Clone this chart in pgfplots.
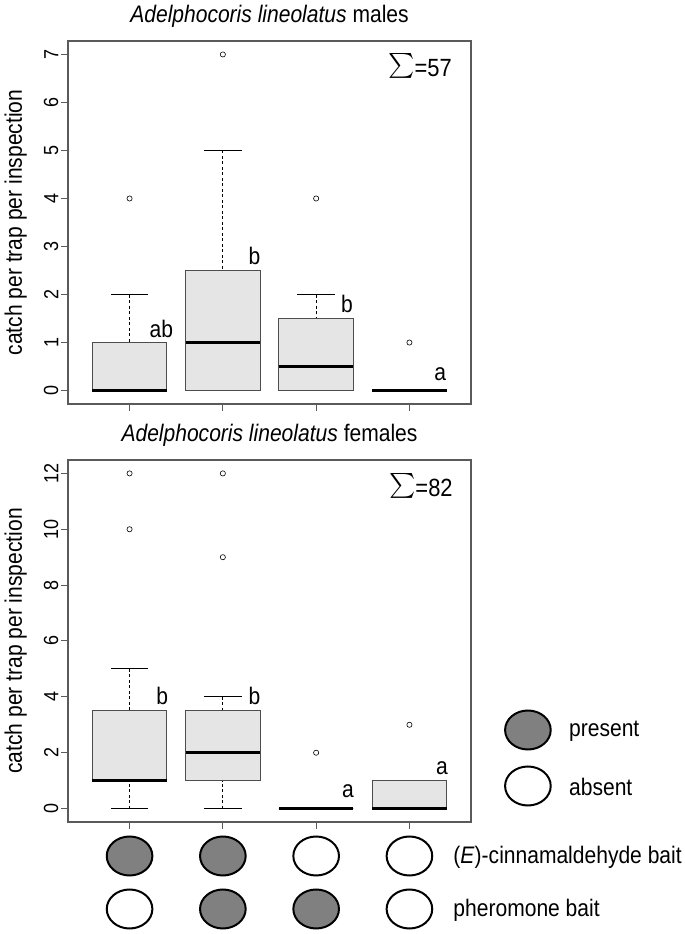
\documentclass[border=0pt]{standalone}
\usepackage{fontspec}
\setmainfont{Liberation Sans}[FakeStretch=0.88]
\usepackage{graphicx}
\usepackage{pgfplots}
\pgfplotsset{compat=1.18}
\usepgfplotslibrary{statistics}
\definecolor{framegray}{HTML}{5A5A5A}
\definecolor{boxgray}{HTML}{4D4D4D}
\definecolor{boxfill}{HTML}{E5E5E5}
\definecolor{markgray}{HTML}{808080}
\newcommand{\bigfont}{\fontsize{24}{24}\selectfont}
\newcommand{\sumfont}{\fontsize{25}{25}\selectfont}
\newcommand{\bigsum}{\raisebox{-4.5bp}{\scalebox{2.5}{$\sum$}}}
\tikzset{lab/.style={anchor=base, font=\bigfont}}
\pgfplotsset{
  panel/.style={
    scale only axis, width=403bp, xmin=0.34, xmax=4.66,
    axis line style={draw=framegray, line width=1.2bp},
    xtick={1,2,3,4}, xticklabels={},
    tick align=outside, major tick length=7bp,
    major tick style={draw=framegray, line width=1bp},
    xtick pos=bottom, ytick pos=left,
    /pgf/number format/assume math mode=true,
    yticklabel style={rotate=90, anchor=south, inner sep=2.5bp, font=\fontsize{20.5}{20.5}\selectfont},
    every axis title/.style={at={(0.5,1)}, anchor=base, yshift=18.5bp, font=\bigfont},
    ylabel={catch per trap per inspection},
    every axis y label/.style={at={(axis description cs:-0.130,0.5)}, rotate=90, anchor=center, font=\bigfont},
    boxplot/draw direction=y,
    boxplot/box extend=0.8,
    boxplot/whisker extend=0.4,
    boxplot/every box/.style={draw=boxgray, fill=boxfill, line width=1bp},
    boxplot/every median/.style={draw=black, line width=2.8bp},
    boxplot/draw/lower whisker/.code={%
      \draw[black, line width=0.8bp, dash pattern=on 3bp off 2.5bp]
        (boxplot cs:\pgfplotsboxplotvalue{lower whisker}) --
        (boxplot cs:\pgfplotsboxplotvalue{lower quartile});
      \draw[black, line width=1bp]
        (boxplot whisker cs:\pgfplotsboxplotvalue{lower whisker},0) --
        (boxplot whisker cs:\pgfplotsboxplotvalue{lower whisker},1);
    },
    boxplot/draw/upper whisker/.code={%
      \draw[black, line width=0.8bp, dash pattern=on 3bp off 2.5bp]
        (boxplot cs:\pgfplotsboxplotvalue{upper whisker}) --
        (boxplot cs:\pgfplotsboxplotvalue{upper quartile});
      \draw[black, line width=1bp]
        (boxplot whisker cs:\pgfplotsboxplotvalue{upper whisker},0) --
        (boxplot whisker cs:\pgfplotsboxplotvalue{upper whisker},1);
    },
    clip=false,
  },
  outl/.style={only marks, mark=o, mark size=2.6bp, mark options={draw=black, line width=0.6bp}},
}
\begin{document}
\begin{tikzpicture}
\useasboundingbox (0,0) rectangle (685bp,934bp);
% ---------------- males ----------------
\begin{axis}[panel, at={(68bp,530bp)}, anchor=south west, height=363bp,
  ymin=-0.28, ymax=7.28, ytick={0,1,2,3,4,5,6,7},
  title={\textit{Adelphocoris lineolatus} males}]
\addplot[boxplot prepared={draw position=1, lower whisker=0, lower quartile=0, median=0, upper quartile=1, upper whisker=2}] coordinates {};
\addplot[boxplot prepared={draw position=2, lower whisker=0, lower quartile=0, median=1, upper quartile=2.5, upper whisker=5}] coordinates {};
\addplot[boxplot prepared={draw position=3, lower whisker=0, lower quartile=0, median=0.5, upper quartile=1.5, upper whisker=2}] coordinates {};
\addplot[boxplot prepared={draw position=4, lower whisker=0, lower quartile=0, median=0, upper quartile=0, upper whisker=0}] coordinates {};
\addplot[outl] coordinates {(1,4) (2,7) (3,4) (4,1)};
\node[lab] at (axis cs:1.34,1.10) {ab};
\node[lab] at (axis cs:2.34,2.63) {b};
\node[lab] at (axis cs:3.33,1.62) {b};
\node[lab] at (axis cs:4.33,0.20) {a};
\node[anchor=base east, font=\sumfont, inner sep=0pt] at (axis description cs:0.953,0.901) {\bigsum=57};
\end{axis}
% ---------------- females ----------------
\begin{axis}[panel, at={(68bp,112bp)}, anchor=south west, height=362bp,
  ymin=-0.48, ymax=12.48, ytick={0,2,4,6,8,10,12},
  title={\textit{Adelphocoris lineolatus} females}]
\addplot[boxplot prepared={draw position=1, lower whisker=0, lower quartile=1, median=1, upper quartile=3.5, upper whisker=5}] coordinates {};
\addplot[boxplot prepared={draw position=2, lower whisker=0, lower quartile=1, median=2, upper quartile=3.5, upper whisker=4}] coordinates {};
\addplot[boxplot prepared={draw position=3, lower whisker=0, lower quartile=0, median=0, upper quartile=0, upper whisker=0}] coordinates {};
\addplot[boxplot prepared={draw position=4, lower whisker=0, lower quartile=0, median=0, upper quartile=1, upper whisker=1}] coordinates {};
\addplot[outl] coordinates {(1,10) (1,12) (2,9) (2,12) (3,2) (4,3)};
\node[lab] at (axis cs:1.35,3.71) {b};
\node[lab] at (axis cs:2.34,3.71) {b};
\node[lab] at (axis cs:3.34,0.38) {a};
\node[lab] at (axis cs:4.35,1.22) {a};
\node[anchor=base east, font=\sumfont, inner sep=0pt] at (axis description cs:0.955,0.898) {\bigsum=82};
\end{axis}
% ---------------- treatments and legend ----------------
\begin{axis}[scale only axis, at={(68bp,0bp)}, anchor=south west, width=403bp, height=112bp,
  xmin=0.34, xmax=4.66, ymin=0, ymax=112, hide axis, clip=false]
\addplot[only marks, mark=*, mark size=19.5bp, mark options={fill=markgray, draw=black, line width=2bp, xscale=1.17}]
  coordinates {(1,78) (2,78) (2,25) (3,25) (5.27,204)};
\addplot[only marks, mark=*, mark size=19.5bp, mark options={fill=white, draw=black, line width=2bp, xscale=1.17}]
  coordinates {(3,78) (4,78) (1,25) (4,25) (5.27,148)};
\node[anchor=west, font=\bigfont, inner sep=0pt] at (axis cs:4.47,77) {(\textit{E})-cinnamaldehyde bait};
\node[anchor=west, font=\bigfont, inner sep=0pt] at (axis cs:4.47,24) {pheromone bait};
\node[anchor=west, font=\bigfont, inner sep=0pt] at (axis cs:5.71,203) {present};
\node[anchor=west, font=\bigfont, inner sep=0pt] at (axis cs:5.71,147) {absent};
\end{axis}
\end{tikzpicture}
\end{document}
